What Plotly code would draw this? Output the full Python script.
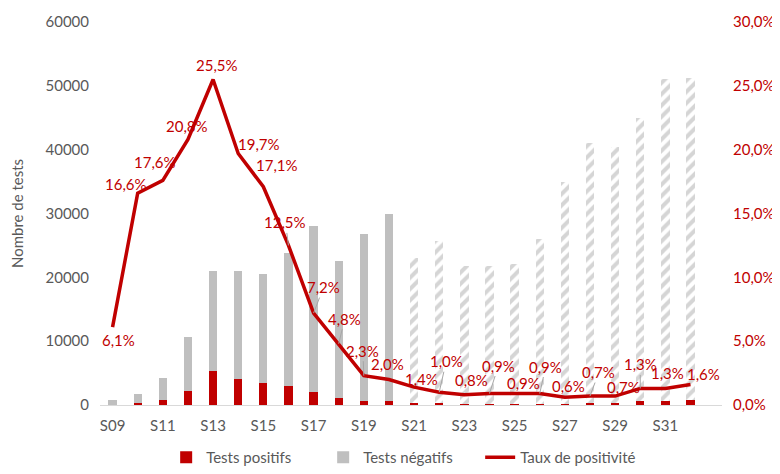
import plotly.graph_objects as go

weeks = ["S09","S10","S11","S12","S13","S14","S15","S16","S17","S18","S19","S20",
         "S21","S22","S23","S24","S25","S26","S27","S28","S29","S30","S31","S32"]
positifs = [50, 280, 760, 2230, 5360, 4140, 3520, 2980, 2020, 1080, 620, 600,
            320, 260, 175, 195, 200, 235, 210, 290, 280, 585, 660, 820]
negatifs = [750, 1420, 3540, 8470, 15640, 16860, 17080, 20820, 25980, 21520, 26180, 29300,
            22680, 25440, 21625, 21505, 21900, 25765, 34790, 40710, 40120, 44415, 50340, 50380]
taux = [0.061, 0.166, 0.176, 0.208, 0.255, 0.197, 0.171, 0.125, 0.072, 0.048, 0.023, 0.020,
        0.014, 0.010, 0.008, 0.009, 0.009, 0.009, 0.006, 0.007, 0.007, 0.013, 0.013, 0.016]
taux_labels = ["6,1%","16,6%","17,6%","20,8%","25,5%","19,7%","17,1%","12,5%","7,2%","4,8%","2,3%","2,0%",
               "1,4%","1,0%","0,8%","0,9%","0,9%","0,9%","0,6%","0,7%","0,7%","1,3%","1,3%","1,6%"]
# label offsets in pixels (style) and whether a leader line is drawn
label_dx = [6, -12, -8, -1, 4, 21, 14, -3, 10, 6, -1, -1, 7, 7, 7, 9, 9, 6, 4, 9, 8, 0, 2, 13]
label_dy = [13, -9, -18, -13, -14, -10, -22, -23, -26, -25, -25, -15, -8, -31, -15, -28, -11, -27, -11, -24, -9, -24, -15, -11]
leader = [0, 0, 0, 0, 0, 0, 0, 1, 1, 1, 1, 0, 0, 1, 0, 1, 0, 1, 0, 1, 0, 1, 0, 0]
tick_weeks = weeks[::2]
n_solid = 12

RED = "#C00000"
GRAY = "#BFBFBF"
TXT = "#595959"
FONT = "Lato"

fig = go.Figure()
fig.add_trace(go.Bar(x=weeks, y=positifs, name="Tests positifs", marker_color=RED,
                     marker_line_width=0))
fig.add_trace(go.Bar(x=weeks[:n_solid], y=negatifs[:n_solid], name="Tests négatifs",
                     marker_color=GRAY, marker_line_width=0, legendgroup="neg"))
fig.add_trace(go.Bar(x=weeks[n_solid:], y=negatifs[n_solid:], name="Tests négatifs",
                     showlegend=False, legendgroup="neg",
                     marker=dict(color="white", line_width=0,
                                 pattern=dict(shape="/", fgcolor="#ABABAB", bgcolor="white",
                                              size=8, solidity=0.5))))
fig.add_trace(go.Scatter(x=weeks, y=taux, name="Taux de positivité", yaxis="y2",
                         mode="lines", line=dict(color=RED, width=3.5)))

for i, w in enumerate(weeks):
    fig.add_annotation(x=w, y=taux[i], yref="y2", text=taux_labels[i],
                       showarrow=True, ax=label_dx[i], ay=label_dy[i],
                       arrowhead=0, arrowwidth=1, standoff=0,
                       arrowcolor="#A6A6A6" if leader[i] else "rgba(0,0,0,0)",
                       font=dict(family=FONT, size=15, color=RED))

fig.update_layout(
    width=772, height=466,
    margin=dict(l=92, r=58, t=14, b=69, autoexpand=False),
    paper_bgcolor="white", plot_bgcolor="white",
    barmode="stack", bargap=0.67,
    separators=", ",
    font=dict(family=FONT, size=15, color=TXT),
    xaxis=dict(type="category", tickmode="array", tickvals=tick_weeks, ticktext=tick_weeks,
               showline=True, linecolor="#D9D9D9", linewidth=1, automargin=False,
               ticks="outside", ticklen=7, tickcolor="rgba(0,0,0,0)",
               tickfont=dict(size=15, color=TXT), showgrid=False),
    yaxis=dict(range=[0, 60000], dtick=10000, tickformat="d", showgrid=False, automargin=False,
               zeroline=False, ticks="outside", ticklen=7, tickcolor="rgba(0,0,0,0)",
               tickfont=dict(size=15, color=TXT),
               title=dict(text="Nombre de tests", font=dict(size=15, color=TXT), standoff=21)),
    yaxis2=dict(range=[0, 0.30], dtick=0.05, tickformat=".1%", overlaying="y", side="right",
                showgrid=False, zeroline=False, ticks="outside", ticklen=7, automargin=False,
                tickcolor="rgba(0,0,0,0)", tickfont=dict(size=15, color=RED)),
    legend=dict(orientation="h", x=0.485, xanchor="center", yref="container", y=-0.014,
                yanchor="bottom",
                font=dict(size=15, color=TXT), traceorder="normal", entrywidth=112),
)

fig.write_html("out.html")
